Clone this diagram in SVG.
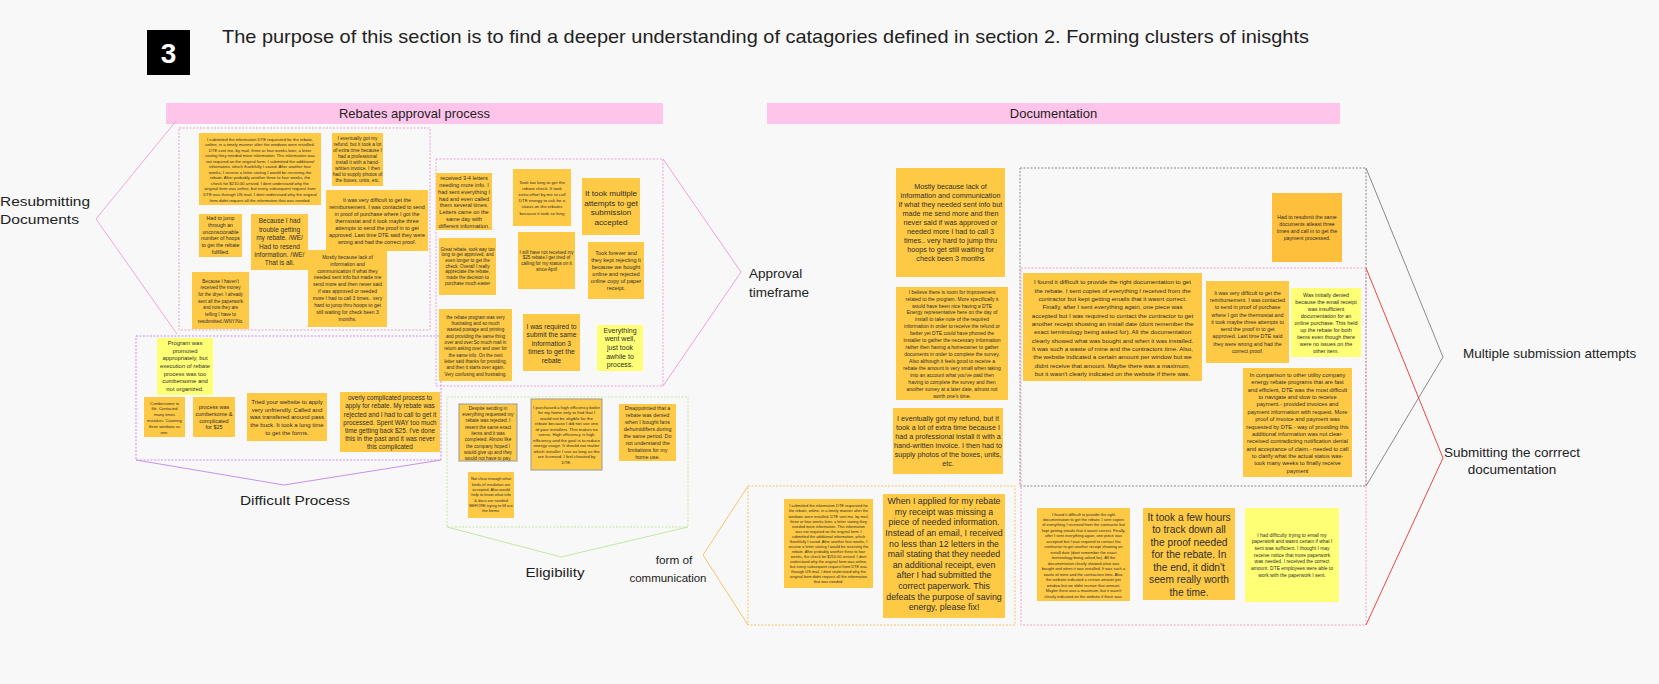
<svg xmlns="http://www.w3.org/2000/svg" width="1659" height="684" viewBox="0 0 1659 684">
<style>
text{font-family:"Liberation Sans",Arial,sans-serif;fill:#2e2e2e}
.c{text-anchor:middle}
.n{fill:#fec944}
.o{fill:#fdbf3c}
.y{fill:#ffff76}
.bd{stroke:#9a9a9a;stroke-width:1}
.bar{fill:#ffc4ea}
.lab{font-size:13.5px;fill:#222}
.box{fill:none;stroke-width:1;stroke-dasharray:2 1.5}
.ch{fill:none;stroke-width:1}
</style>
<rect width="1659" height="684" fill="#f8f8f8"/>

<g id="header">
<rect x="147" y="30" width="43" height="45" fill="#000"/>
<text x="168.5" y="63" font-size="28" font-weight="bold" class="c" style="fill:#fff">3</text>
<text x="222" y="43" font-size="19" textLength="1087" lengthAdjust="spacingAndGlyphs" style="fill:#222">The purpose of this section is to find a deeper understanding of catagories defined in section 2. Forming clusters of inisghts</text>
</g>

<g id="bar-rebates"><rect class="bar" x="166" y="103" width="497" height="21"/><text class="c" x="414.5" y="118" font-size="13" style="fill:#222">Rebates approval process</text></g>
<g id="bar-documentation"><rect class="bar" x="767" y="103" width="573" height="21"/><text class="c" x="1053.5" y="118" font-size="13" style="fill:#222">Documentation</text></g>

<g id="connectors">
<rect class="box" x="179" y="128" width="251" height="202" stroke="#ec9fd3"/>
<rect class="box" x="436" y="159" width="227" height="227" stroke="#f2a0d8"/>
<rect class="box" x="136" y="336" width="305" height="124" stroke="#c890f0"/>
<rect class="box" x="447" y="397" width="241" height="130" stroke="#c4e8a0"/>
<rect class="box" x="748" y="486" width="267" height="139" stroke="#f7c46c"/>
<rect class="box" x="1020" y="168" width="346" height="318" stroke="#8a8a8a"/>
<rect class="box" x="1021" y="268" width="345" height="357" stroke="#f3a3c8"/>
<polyline class="ch" points="176,121 96,219 177,334" stroke="#f2a6d6"/>
<polyline class="ch" points="663,159 741,272 663,386" stroke="#f2a0d8"/>
<polyline class="ch" points="136,460 284,485 441,460" stroke="#c890f0"/>
<polyline class="ch" points="447,527 561,557 688,527" stroke="#c4e8a0"/>
<polyline class="ch" points="748,486 703,555 748,625" stroke="#f7c46c"/>
<polyline class="ch" points="1366,168 1443,357 1366,486" stroke="#8a8a8a"/>
<polyline class="ch" points="1366,268 1443,458 1366,625" stroke="#e84848"/>
</g>

<g id="labels">
<text class="lab" x="0" y="206" font-size="14" textLength="90" lengthAdjust="spacingAndGlyphs">Resubmitting</text>
<text class="lab" x="0" y="224" font-size="14" textLength="79" lengthAdjust="spacingAndGlyphs">Documents</text>
<text class="lab" x="749" y="278">Approval</text>
<text class="lab" x="749" y="297">timeframe</text>
<text class="lab c" x="295" y="505" textLength="110" lengthAdjust="spacingAndGlyphs">Difficult Process</text>
<text class="lab c" x="555" y="577" textLength="59" lengthAdjust="spacingAndGlyphs">Eligibility</text>
<text class="lab c" x="674" y="564" style="font-size:11.8px">form of</text>
<text class="lab c" x="668" y="582" style="font-size:11.8px" textLength="77" lengthAdjust="spacingAndGlyphs">communication</text>
<text class="lab" x="1463" y="358">Multiple submission attempts</text>
<text class="lab c" x="1512" y="457">Submitting the corrrect</text>
<text class="lab c" x="1512" y="474">documentation</text>
</g>

<!-- Resubmitting cluster -->
<g id="r-a"><rect class="n" x="199" y="133" width="122" height="72"/>
<text class="c" x="260" y="140.5" font-size="4.2"><tspan x="260" dy="0">I submitted the information DTE requested for the rebate,</tspan><tspan x="260" dy="5.55">online, in a timely manner after the windows were installed.</tspan><tspan x="260" dy="5.55">DTE sent me, by mail, three or four weeks later, a letter</tspan><tspan x="260" dy="5.55">stating they needed more information. This information was</tspan><tspan x="260" dy="5.55">not required on the original form. I submitted the additional</tspan><tspan x="260" dy="5.55">information, which thankfully I saved. After another four</tspan><tspan x="260" dy="5.55">weeks, I receive a letter stating I would be receiving the</tspan><tspan x="260" dy="5.55">rebate. After probably another three to four weeks, the</tspan><tspan x="260" dy="5.55">check for $210.00 arrived. I dont understand why the</tspan><tspan x="260" dy="5.55">original form was online, but every subsequent request from</tspan><tspan x="260" dy="5.55">DTE was through US mail. I dont understand why the original</tspan><tspan x="260" dy="5.55">form didnt request all the information that was needed.</tspan></text></g>
<g id="r-b"><rect class="n" x="332" y="133" width="51" height="53"/>
<text class="c" x="357.5" y="139.7" font-size="4.8"><tspan x="357.5" dy="0">I eventually got my</tspan><tspan x="357.5" dy="6">refund, but it took a lot</tspan><tspan x="357.5" dy="6">of extra time because I</tspan><tspan x="357.5" dy="6">had a professional</tspan><tspan x="357.5" dy="6">install it with a hand-</tspan><tspan x="357.5" dy="6">written invoice. I then</tspan><tspan x="357.5" dy="6">had to supply photos of</tspan><tspan x="357.5" dy="6">the boxes, units, etc.</tspan></text></g>
<g id="r-c"><rect class="n" x="326" y="190" width="102" height="61"/>
<text class="c" x="377" y="202" font-size="5.4"><tspan x="377" dy="0">It was very difficult to get the</tspan><tspan x="377" dy="7">reimbursement. I was contacted to send</tspan><tspan x="377" dy="7">in proof of purchase where I got the</tspan><tspan x="377" dy="7">thermostat and it took maybe three</tspan><tspan x="377" dy="7">attempts to send the proof in to get</tspan><tspan x="377" dy="7">approved. Last time DTE said they were</tspan><tspan x="377" dy="7">wrong and had the correct proof.</tspan></text></g>
<g id="r-d"><rect class="n" x="199" y="214" width="43" height="43"/>
<text class="c" x="220.5" y="220" font-size="5.2"><tspan x="220.5" dy="0">Had to jump</tspan><tspan x="220.5" dy="6.8">through an</tspan><tspan x="220.5" dy="6.8">unconscionable</tspan><tspan x="220.5" dy="6.8">number of hoops</tspan><tspan x="220.5" dy="6.8">to get the rebate</tspan><tspan x="220.5" dy="6.8">fulfilled.</tspan></text></g>
<g id="r-e"><rect class="n" x="251" y="214" width="57" height="56"/>
<text class="c" x="279.5" y="223.3" font-size="6.5"><tspan x="279.5" dy="0">Because I had</tspan><tspan x="279.5" dy="8.4">trouble getting</tspan><tspan x="279.5" dy="8.4">my rebate. /WE/</tspan><tspan x="279.5" dy="8.4">Had to resend</tspan><tspan x="279.5" dy="8.4">information. /WE/</tspan><tspan x="279.5" dy="8.4">That is all.</tspan></text></g>
<g id="r-f"><rect class="n" x="308" y="250" width="79" height="77"/>
<text class="c" x="347.5" y="258.7" font-size="5"><tspan x="347.5" dy="0">Mostly because lack of</tspan><tspan x="347.5" dy="6.9">information and</tspan><tspan x="347.5" dy="6.9">communication if what they</tspan><tspan x="347.5" dy="6.9">needed sent info but made me</tspan><tspan x="347.5" dy="6.9">send more and then never said</tspan><tspan x="347.5" dy="6.9">if was approved or needed</tspan><tspan x="347.5" dy="6.9">more I had to call 3 times.. very</tspan><tspan x="347.5" dy="6.9">hard to jump thru hoops to get</tspan><tspan x="347.5" dy="6.9">still waiting for check been 3</tspan><tspan x="347.5" dy="6.9">months.</tspan></text></g>
<g id="r-g"><rect class="n" x="192" y="272" width="57" height="57"/>
<text class="c" x="220.5" y="282.6" font-size="4.6"><tspan x="220.5" dy="0">Because I haven't</tspan><tspan x="220.5" dy="6.7">received the money</tspan><tspan x="220.5" dy="6.7">for the dryer. I already</tspan><tspan x="220.5" dy="6.7">sent all the paperwork</tspan><tspan x="220.5" dy="6.7">and now they are</tspan><tspan x="220.5" dy="6.7">telling I have to</tspan><tspan x="220.5" dy="6.7">resubmitted./WNY/No.</tspan></text></g>

<!-- Approval timeframe cluster -->
<g id="a-1"><rect class="n" x="436" y="173" width="56" height="57"/>
<text class="c" x="464" y="180" font-size="5.6"><tspan x="464" dy="0">received 3-4 letters</tspan><tspan x="464" dy="6.85">needing more info. I</tspan><tspan x="464" dy="6.85">had sent everything I</tspan><tspan x="464" dy="6.85">had and even called</tspan><tspan x="464" dy="6.85">them several times.</tspan><tspan x="464" dy="6.85">Letters came on the</tspan><tspan x="464" dy="6.85">same day with</tspan><tspan x="464" dy="6.85">different information.</tspan></text></g>
<g id="a-2"><rect class="n" x="513" y="169" width="58" height="57"/>
<text class="c" x="542" y="183.6" font-size="4.4"><tspan x="542" dy="0">Took too long to get the</tspan><tspan x="542" dy="6.2">rebate check. It took</tspan><tspan x="542" dy="6.2">extra effort by me to call</tspan><tspan x="542" dy="6.2">DTE energy to ask for a</tspan><tspan x="542" dy="6.2">status on the rebates</tspan><tspan x="542" dy="6.2">because it took so long</tspan></text></g>
<g id="a-3"><rect class="n" x="582" y="178" width="58" height="57"/>
<text class="c" x="611" y="195.9" font-size="8.1"><tspan x="611" dy="0">It took multiple</tspan><tspan x="611" dy="9.7">attempts to get</tspan><tspan x="611" dy="9.7">submission</tspan><tspan x="611" dy="9.7">accepted</tspan></text></g>
<g id="a-4"><rect class="n" x="439" y="238" width="57" height="57"/>
<text class="c" x="467.5" y="250.5" font-size="4.6"><tspan x="467.5" dy="0">Great rebate, took way too</tspan><tspan x="467.5" dy="5.7">long to get approved, and</tspan><tspan x="467.5" dy="5.7">even longer to get the</tspan><tspan x="467.5" dy="5.7">check. Overall I really</tspan><tspan x="467.5" dy="5.7">appreciate the rebate,</tspan><tspan x="467.5" dy="5.7">made the decision to</tspan><tspan x="467.5" dy="5.7">purchase much easier</tspan></text></g>
<g id="a-5"><rect class="n" x="518" y="232" width="57" height="57"/>
<text class="c" x="546.5" y="253.5" font-size="4.6"><tspan x="546.5" dy="0">I still have not received my</tspan><tspan x="546.5" dy="5.7">$25 rebate.I get tired of</tspan><tspan x="546.5" dy="5.7">calling for my status on it</tspan><tspan x="546.5" dy="5.7">since April</tspan></text></g>
<g id="a-6"><rect class="n" x="588" y="242" width="56" height="57"/>
<text class="c" x="616" y="254.9" font-size="5.6"><tspan x="616" dy="0">Took forever and</tspan><tspan x="616" dy="7">they kept rejecting it</tspan><tspan x="616" dy="7">because we bought</tspan><tspan x="616" dy="7">online and rejected</tspan><tspan x="616" dy="7">online copy of paper</tspan><tspan x="616" dy="7">receipt.</tspan></text></g>
<g id="a-7"><rect class="n" x="439" y="309" width="73" height="72"/>
<text class="c" x="475.5" y="318.6" font-size="4.6"><tspan x="475.5" dy="0">the rebate program was very</tspan><tspan x="475.5" dy="6.33">frustrating and so much</tspan><tspan x="475.5" dy="6.33">wasted postage and printing</tspan><tspan x="475.5" dy="6.33">and providing the same thing</tspan><tspan x="475.5" dy="6.33">over and over.So much mail in</tspan><tspan x="475.5" dy="6.33">return asking over and over for</tspan><tspan x="475.5" dy="6.33">the same info. On the next</tspan><tspan x="475.5" dy="6.33">letter said thanks for providing,</tspan><tspan x="475.5" dy="6.33">and then it starts over again.</tspan><tspan x="475.5" dy="6.33">Very confusing and frustrating.</tspan></text></g>
<g id="a-8"><rect class="n" x="523" y="314" width="57" height="57"/>
<text class="c" x="551.5" y="328.5" font-size="6.8"><tspan x="551.5" dy="0">I was required to</tspan><tspan x="551.5" dy="8.6">submit the same</tspan><tspan x="551.5" dy="8.6">information 3</tspan><tspan x="551.5" dy="8.6">times to get the</tspan><tspan x="551.5" dy="8.6">rebate</tspan></text></g>
<g id="a-9"><rect class="y" x="597" y="325" width="46" height="46"/>
<text class="c" x="620" y="332.5" font-size="7"><tspan x="620" dy="0">Everything</tspan><tspan x="620" dy="8.7">went well,</tspan><tspan x="620" dy="8.7">just took</tspan><tspan x="620" dy="8.7">awhile to</tspan><tspan x="620" dy="8.7">process.</tspan></text></g>

<!-- Difficult process cluster -->
<g id="d-1"><rect class="y" x="157" y="338" width="56" height="57"/>
<text class="c" x="185" y="345.1" font-size="5.9"><tspan x="185" dy="0">Program was</tspan><tspan x="185" dy="7.6">promoted</tspan><tspan x="185" dy="7.6">appropriately, but</tspan><tspan x="185" dy="7.6">execution of rebate</tspan><tspan x="185" dy="7.6">process was too</tspan><tspan x="185" dy="7.6">cumbersome and</tspan><tspan x="185" dy="7.6">not organized.</tspan></text></g>
<g id="d-2"><rect class="n" x="144" y="397" width="41" height="40"/>
<text class="c" x="164.5" y="404.5" font-size="4.1"><tspan x="164.5" dy="0">Cumbersome to</tspan><tspan x="164.5" dy="5.8">file. Contacted</tspan><tspan x="164.5" dy="5.8">many times</tspan><tspan x="164.5" dy="5.8">mistakes. Counting</tspan><tspan x="164.5" dy="5.8">three windows as</tspan><tspan x="164.5" dy="5.8">one.</tspan></text></g>
<g id="d-3"><rect class="n" x="193" y="397" width="42" height="40"/>
<text class="c" x="214" y="408.9" font-size="5.5"><tspan x="214" dy="0">process was</tspan><tspan x="214" dy="6.8">cumbersome &amp;</tspan><tspan x="214" dy="6.8">complicated</tspan><tspan x="214" dy="6.8">for $25</tspan></text></g>
<g id="d-4"><rect class="n" x="247" y="393" width="80" height="48"/>
<text class="c" x="287" y="404.1" font-size="6"><tspan x="287" dy="0">Tried your website to apply</tspan><tspan x="287" dy="7.6">very unfriendly. Called and</tspan><tspan x="287" dy="7.6">was transfered around pass</tspan><tspan x="287" dy="7.6">the buck. It took a long time</tspan><tspan x="287" dy="7.6">to get the forms.</tspan></text></g>
<g id="d-5"><rect class="n" x="340" y="392" width="100" height="60"/>
<text class="c" x="390" y="400.3" font-size="6.4"><tspan x="390" dy="0">overly complicated process to</tspan><tspan x="390" dy="8.1">apply for rebate. My rebate was</tspan><tspan x="390" dy="8.1">rejected and I had to call to get it</tspan><tspan x="390" dy="8.1">processed. Spent WAY too much</tspan><tspan x="390" dy="8.1">time getting back $25. I've done</tspan><tspan x="390" dy="8.1">this in the past and it was never</tspan><tspan x="390" dy="8.1">this complicated</tspan></text></g>

<!-- Eligibility cluster -->
<g id="e-1"><rect class="n bd" x="459" y="404" width="58" height="57"/>
<text class="c" x="488" y="409.6" font-size="4.7"><tspan x="488" dy="0">Despite sending in</tspan><tspan x="488" dy="6.35">everything requested my</tspan><tspan x="488" dy="6.35">rebate was rejected. I</tspan><tspan x="488" dy="6.35">resent the same exact</tspan><tspan x="488" dy="6.35">items and it was</tspan><tspan x="488" dy="6.35">completed. Almost like</tspan><tspan x="488" dy="6.35">the company hoped I</tspan><tspan x="488" dy="6.35">would give up and they</tspan><tspan x="488" dy="6.35">would not have to pay.</tspan></text></g>
<g id="e-2"><rect class="n bd" x="531" y="399" width="71" height="71"/>
<text class="c" x="566.5" y="408.5" font-size="4.35"><tspan x="566.5" dy="0">I purchased a high efficiency boiler</tspan><tspan x="566.5" dy="5.5">for my home only to find that I</tspan><tspan x="566.5" dy="5.5">would not be eligible for the</tspan><tspan x="566.5" dy="5.5">rebate because I did not use one</tspan><tspan x="566.5" dy="5.5">of your installers. This makes no</tspan><tspan x="566.5" dy="5.5">sense. High efficiency is high</tspan><tspan x="566.5" dy="5.5">efficiency and the goal is to reduce</tspan><tspan x="566.5" dy="5.5">energy usage. It should not matter</tspan><tspan x="566.5" dy="5.5">which installer I use as long as the</tspan><tspan x="566.5" dy="5.5">are licensed. I feel cheated by</tspan><tspan x="566.5" dy="5.5">DTE.</tspan></text></g>
<g id="e-3"><rect class="n" x="619" y="404" width="57" height="57"/>
<text class="c" x="647.5" y="409.9" font-size="5.3"><tspan x="647.5" dy="0">Disappointed that a</tspan><tspan x="647.5" dy="7">rebate was denied</tspan><tspan x="647.5" dy="7">when I bought fans</tspan><tspan x="647.5" dy="7">dehumidifiers during</tspan><tspan x="647.5" dy="7">the same period. Do</tspan><tspan x="647.5" dy="7">not understand the</tspan><tspan x="647.5" dy="7">limitations for my</tspan><tspan x="647.5" dy="7">home use.</tspan></text></g>
<g id="e-4"><rect class="n" x="468" y="472" width="46" height="46"/>
<text class="c" x="491" y="480.4" font-size="4"><tspan x="491" dy="0">Not clear enough what</tspan><tspan x="491" dy="5.3">kinds of insulation are</tspan><tspan x="491" dy="5.3">accepted. Also would</tspan><tspan x="491" dy="5.3">help to know what info</tspan><tspan x="491" dy="5.3">&amp; docs are needed</tspan><tspan x="491" dy="5.3">BEFORE trying to fill out</tspan><tspan x="491" dy="5.3">the forms.</tspan></text></g>

<!-- Documentation notes -->
<g id="doc-1"><rect class="n" x="896" y="168" width="109" height="109"/>
<text class="c" x="950.5" y="188.5" font-size="7.2"><tspan x="950.5" dy="0">Mostly because lack of</tspan><tspan x="950.5" dy="9.1">information and communication</tspan><tspan x="950.5" dy="9.1">if what they needed sent info but</tspan><tspan x="950.5" dy="9.1">made me send more and then</tspan><tspan x="950.5" dy="9.1">never said if was approved or</tspan><tspan x="950.5" dy="9.1">needed more I had to call 3</tspan><tspan x="950.5" dy="9.1">times.. very hard to jump thru</tspan><tspan x="950.5" dy="9.1">hoops to get still waiting for</tspan><tspan x="950.5" dy="9.1">check been 3 months</tspan></text></g>
<g id="doc-2"><rect class="n" x="896" y="287" width="112" height="113"/>
<text class="c" x="952" y="293.7" font-size="5"><tspan x="952" dy="0">I believe there is room for improvement</tspan><tspan x="952" dy="6.93">related to the program. More specifically it</tspan><tspan x="952" dy="6.93">would have been nice having a DTE</tspan><tspan x="952" dy="6.93">Energy representative here on the day of</tspan><tspan x="952" dy="6.93">install to take note of the required</tspan><tspan x="952" dy="6.93">information in order to receive the refund or</tspan><tspan x="952" dy="6.93">better yet DTE could have phoned the</tspan><tspan x="952" dy="6.93">installer to gather the necessary information</tspan><tspan x="952" dy="6.93">rather then having a homeowner to gather</tspan><tspan x="952" dy="6.93">documents in order to complete the survey.</tspan><tspan x="952" dy="6.93">Also although it feels good to receive a</tspan><tspan x="952" dy="6.93">rebate the amount is very small when taking</tspan><tspan x="952" dy="6.93">into an account what you've paid then</tspan><tspan x="952" dy="6.93">having to complete the survey and then</tspan><tspan x="952" dy="6.93">another survey at a later date, almost not</tspan><tspan x="952" dy="6.93">worth one's time.</tspan></text></g>
<g id="doc-3"><rect class="n" x="893" y="408" width="110" height="66"/>
<text class="c" x="948" y="420.5" font-size="7.2"><tspan x="948" dy="0">I eventually got my refund, but it</tspan><tspan x="948" dy="9.1">took a lot of extra time because I</tspan><tspan x="948" dy="9.1">had a professional install it with a</tspan><tspan x="948" dy="9.1">hand-written invoice. I then had to</tspan><tspan x="948" dy="9.1">supply photos of the boxes, units,</tspan><tspan x="948" dy="9.1">etc.</tspan></text></g>

<!-- Multiple submission attempts -->
<g id="m-1"><rect class="o" x="1272" y="193" width="70" height="69"/>
<text class="c" x="1307" y="218.8" font-size="5.2"><tspan x="1307" dy="0">Had to resubmit the same</tspan><tspan x="1307" dy="6.9">documents atleast three</tspan><tspan x="1307" dy="6.9">times and call in to get the</tspan><tspan x="1307" dy="6.9">payment processed.</tspan></text></g>

<!-- Submitting the correct documentation -->
<g id="s-1"><rect class="n" x="1023" y="273" width="179" height="108"/>
<text class="c" x="1112.5" y="284.2" font-size="6.2"><tspan x="1112.5" dy="0">I found it difficult to provide the right documentation to get</tspan><tspan x="1112.5" dy="8.36">the rebate. I sent copies of everything I received from the</tspan><tspan x="1112.5" dy="8.36">contractor but kept getting emails that it wasnt correct.</tspan><tspan x="1112.5" dy="8.36">Finally, after I sent everything again, one piece was</tspan><tspan x="1112.5" dy="8.36">accepted but I was required to contact the contractor to get</tspan><tspan x="1112.5" dy="8.36">another receipt showing an install date (dont remember the</tspan><tspan x="1112.5" dy="8.36">exact terminology being asked for). All the documentation</tspan><tspan x="1112.5" dy="8.36">clearly showed what was bought and when it was installed.</tspan><tspan x="1112.5" dy="8.36">It was such a waste of mine and the contractors time. Also,</tspan><tspan x="1112.5" dy="8.36">the website indicated a certain amount per window but we</tspan><tspan x="1112.5" dy="8.36">didnt receive that amount. Maybe there was a maximum,</tspan><tspan x="1112.5" dy="8.36">but it wasn't clearly indicated on the website if there was.</tspan></text></g>
<g id="s-2"><rect class="n" x="1206" y="281" width="83" height="82"/>
<text class="c" x="1247.5" y="294.8" font-size="5.3"><tspan x="1247.5" dy="0">It was very difficult to get the</tspan><tspan x="1247.5" dy="7.25">reimbursement. I was contacted</tspan><tspan x="1247.5" dy="7.25">to send in proof of purchase</tspan><tspan x="1247.5" dy="7.25">where I got the thermostat and</tspan><tspan x="1247.5" dy="7.25">it took maybe three attempts to</tspan><tspan x="1247.5" dy="7.25">send the proof in to get</tspan><tspan x="1247.5" dy="7.25">approved. Last time DTE said</tspan><tspan x="1247.5" dy="7.25">they were wrong and had the</tspan><tspan x="1247.5" dy="7.25">correct proof.</tspan></text></g>
<g id="s-3"><rect class="y" x="1291" y="288" width="70" height="69"/>
<text class="c" x="1326" y="296.8" font-size="5.4"><tspan x="1326" dy="0">Was initially denied</tspan><tspan x="1326" dy="7">because the email receipt</tspan><tspan x="1326" dy="7">was insufficient</tspan><tspan x="1326" dy="7">documentation for an</tspan><tspan x="1326" dy="7">online purchase. This held</tspan><tspan x="1326" dy="7">up the rebate for both</tspan><tspan x="1326" dy="7">items even though there</tspan><tspan x="1326" dy="7">were no issues on the</tspan><tspan x="1326" dy="7">other item.</tspan></text></g>
<g id="s-4"><rect class="n" x="1243" y="368" width="109" height="109"/>
<text class="c" x="1297.5" y="376.9" font-size="5.7"><tspan x="1297.5" dy="0">In comparison to other utility company</tspan><tspan x="1297.5" dy="7.38">energy rebate programs that are fast</tspan><tspan x="1297.5" dy="7.38">and efficient, DTE was the most difficult</tspan><tspan x="1297.5" dy="7.38">to navigate and slow to receive</tspan><tspan x="1297.5" dy="7.38">payment.- provided invoices and</tspan><tspan x="1297.5" dy="7.38">payment information with request. More</tspan><tspan x="1297.5" dy="7.38">proof of invoice and payment was</tspan><tspan x="1297.5" dy="7.38">requested by DTE.- way of providing this</tspan><tspan x="1297.5" dy="7.38">additional information was not clear-</tspan><tspan x="1297.5" dy="7.38">received contradicting notification denial</tspan><tspan x="1297.5" dy="7.38">and acceptance of claim.- needed to call</tspan><tspan x="1297.5" dy="7.38">to clarify what the actual status was-</tspan><tspan x="1297.5" dy="7.38">took many weeks to finally receive</tspan><tspan x="1297.5" dy="7.38">payment</tspan></text></g>
<g id="s-5"><rect class="n" x="1037" y="508" width="93" height="93"/>
<text class="c" x="1083.5" y="515.5" font-size="4"><tspan x="1083.5" dy="0">I found it difficult to provide the right</tspan><tspan x="1083.5" dy="5.47">documentation to get the rebate. I sent copies</tspan><tspan x="1083.5" dy="5.47">of everything I received from the contractor but</tspan><tspan x="1083.5" dy="5.47">kept getting emails that it wasnt correct. Finally,</tspan><tspan x="1083.5" dy="5.47">after I sent everything again, one piece was</tspan><tspan x="1083.5" dy="5.47">accepted but I was required to contact the</tspan><tspan x="1083.5" dy="5.47">contractor to get another receipt showing an</tspan><tspan x="1083.5" dy="5.47">install date (dont remember the exact</tspan><tspan x="1083.5" dy="5.47">terminology being asked for). All the</tspan><tspan x="1083.5" dy="5.47">documentation clearly showed what was</tspan><tspan x="1083.5" dy="5.47">bought and when it was installed. It was such a</tspan><tspan x="1083.5" dy="5.47">waste of mine and the contractors time. Also,</tspan><tspan x="1083.5" dy="5.47">the website indicated a certain amount per</tspan><tspan x="1083.5" dy="5.47">window but we didnt receive that amount.</tspan><tspan x="1083.5" dy="5.47">Maybe there was a maximum, but it wasn't</tspan><tspan x="1083.5" dy="5.47">clearly indicated on the website if there was.</tspan></text></g>
<g id="s-6"><rect class="n" x="1143" y="508" width="92" height="92"/>
<text class="c" x="1189" y="520.6" font-size="10.2"><tspan x="1189" dy="0">It took a few hours</tspan><tspan x="1189" dy="12.5">to track down all</tspan><tspan x="1189" dy="12.5">the proof needed</tspan><tspan x="1189" dy="12.5">for the rebate. In</tspan><tspan x="1189" dy="12.5">the end, it didn't</tspan><tspan x="1189" dy="12.5">seem really worth</tspan><tspan x="1189" dy="12.5">the time.</tspan></text></g>
<g id="s-7"><rect class="y" x="1245" y="508" width="94" height="94"/>
<text class="c" x="1292" y="536.7" font-size="4.9"><tspan x="1292" dy="0">I had difficulty trying to email my</tspan><tspan x="1292" dy="6.67">paperwork and wasnt certain if what I</tspan><tspan x="1292" dy="6.67">sent was sufficient. I thought I may</tspan><tspan x="1292" dy="6.67">receive notice that more paperwork</tspan><tspan x="1292" dy="6.67">was needed. I received the correct</tspan><tspan x="1292" dy="6.67">amount. DTE employees were able to</tspan><tspan x="1292" dy="6.67">work with the paperwork I sent.</tspan></text></g>

<!-- Form of communication -->
<g id="f-1"><rect class="n" x="784" y="499" width="89" height="89"/>
<text class="c" x="828.5" y="507.4" font-size="3.9"><tspan x="828.5" dy="0">I submitted the information DTE requested for</tspan><tspan x="828.5" dy="5.07">the rebate, online, in a timely manner after the</tspan><tspan x="828.5" dy="5.07">windows were installed. DTE sent me, by mail,</tspan><tspan x="828.5" dy="5.07">three or four weeks later, a letter stating they</tspan><tspan x="828.5" dy="5.07">needed more information. This information</tspan><tspan x="828.5" dy="5.07">was not required on the original form. I</tspan><tspan x="828.5" dy="5.07">submitted the additional information, which</tspan><tspan x="828.5" dy="5.07">thankfully I saved. After another four weeks, I</tspan><tspan x="828.5" dy="5.07">receive a letter stating I would be receiving the</tspan><tspan x="828.5" dy="5.07">rebate. After probably another three to four</tspan><tspan x="828.5" dy="5.07">weeks, the check for $210.00 arrived. I dont</tspan><tspan x="828.5" dy="5.07">understand why the original form was online,</tspan><tspan x="828.5" dy="5.07">but every subsequent request from DTE was</tspan><tspan x="828.5" dy="5.07">through US mail. I dont understand why the</tspan><tspan x="828.5" dy="5.07">original form didnt request all the information</tspan><tspan x="828.5" dy="5.07">that was needed.</tspan></text></g>
<g id="f-2"><rect class="n" x="883" y="494" width="122" height="124"/>
<text class="c" x="944" y="504" font-size="8.8"><tspan x="944" dy="0">When I applied for my rebate</tspan><tspan x="944" dy="10.63">my receipt was missing a</tspan><tspan x="944" dy="10.63">piece of needed information.</tspan><tspan x="944" dy="10.63">Instead of an email, I received</tspan><tspan x="944" dy="10.63">no less than 12 letters in the</tspan><tspan x="944" dy="10.63">mail stating that they needed</tspan><tspan x="944" dy="10.63">an additional receipt, even</tspan><tspan x="944" dy="10.63">after I had submitted the</tspan><tspan x="944" dy="10.63">correct paperwork. This</tspan><tspan x="944" dy="10.63">defeats the purpose of saving</tspan><tspan x="944" dy="10.63">energy, please fix!</tspan></text></g>
</svg>
